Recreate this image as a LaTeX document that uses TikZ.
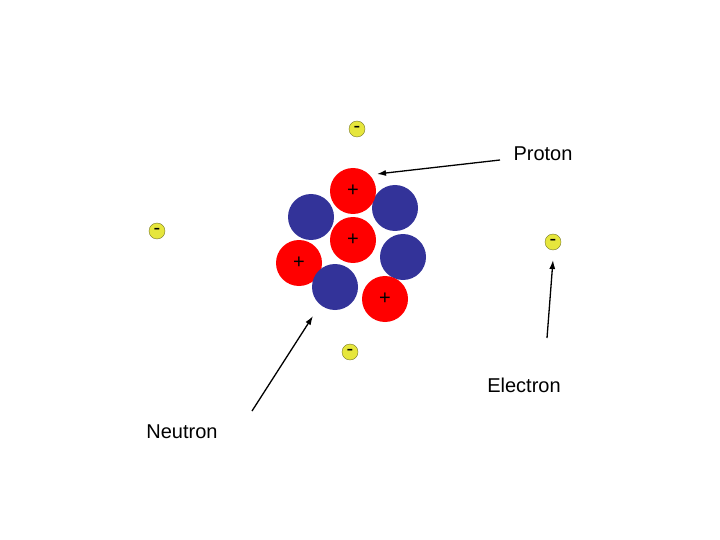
\documentclass[tikz,border=0pt]{standalone}
\usepackage{fontspec}
\setmainfont{Liberation Sans}
\usetikzlibrary{arrows.meta}
\begin{document}
\begin{tikzpicture}[x=1pt,y=-1pt,
  proton/.style={circle,fill=red,minimum size=46pt,inner sep=0pt,font=\fontsize{20}{20}\selectfont},
  neutron/.style={circle,fill={rgb,255:red,51;green,51;blue,153},minimum size=46pt,inner sep=0pt},
  electron/.style={circle,fill={rgb,255:red,230;green,230;blue,60},draw={rgb,255:red,120;green,120;blue,40},line width=0.4pt,minimum size=16pt,inner sep=0pt,font=\fontsize{20}{20}\selectfont},
  lbl/.style={font=\fontsize{20}{20}\selectfont},
  arr/.style={-{Latex[length=9pt,width=6pt]},line width=1.3pt}]
\useasboundingbox (0,0) rectangle (720,540);
\node[neutron] (n1) at (311,217) {};
\node[neutron] (n2) at (395,208) {};
\node[neutron] (n3) at (403,257) {};
\node[proton] (p1) at (353,191) {+};
\node[proton] (p2) at (353,240) {+};
\node[proton] (p3) at (299,263) {+};
\node[neutron] (n4) at (335,287) {};
\node[proton] (p4) at (385,299) {+};
\node[electron] (e1) at (357,129) {-};
\node[electron] (e2) at (157,231) {-};
\node[electron] (e3) at (553,242) {-};
\node[electron] (e4) at (350,352) {-};
\node[lbl] (lp) at (543,154) {Proton};
\node[lbl] (le) at (524,385) {Electron};
\node[lbl] (ln) at (182,432) {Neutron};
\coordinate (ap) at (377,174);
\coordinate (ap0) at (500,160);
\coordinate (an) at (313,316);
\coordinate (an0) at (252,411);
\coordinate (ae) at (553,260);
\coordinate (ae0) at (547,338);
\draw[arr] (ap0) -- (ap);
\draw[arr] (an0) -- (an);
\draw[arr] (ae0) -- (ae);
\end{tikzpicture}
\end{document}
